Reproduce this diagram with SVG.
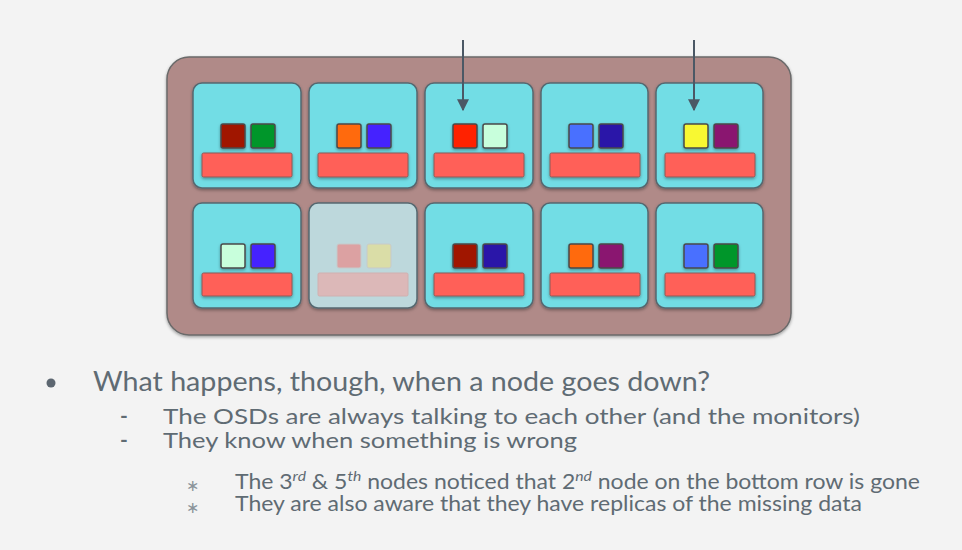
<svg xmlns="http://www.w3.org/2000/svg" width="962" height="550" viewBox="0 0 962 550">
<defs>
<filter id="sh" x="-20%" y="-20%" width="140%" height="150%">
<feDropShadow dx="0" dy="1.5" stdDeviation="1.5" flood-color="#000" flood-opacity="0.35"/>
</filter>
<marker id="ah" viewBox="0 0 10 10" refX="9" refY="5" markerWidth="6" markerHeight="6" orient="auto">
<path d="M0,0 L10,5 L0,10 z" fill="#4b5865"/>
</marker>
<style>
.node{fill:#72dde5;stroke:#556870;stroke-width:1.5;filter:url(#sh)}
.dead{fill:#bdd8dc;stroke:#556870;stroke-width:1.5;filter:url(#sh)}
.sq{stroke:#4a4a4a;stroke-width:1.5;filter:url(#sh)}
.fsq{stroke:#c8c8c8;stroke-width:1;opacity:0.9}
.bar{fill:#ff6058;stroke:#8a5a58;stroke-width:1;filter:url(#sh)}
.fbar{fill:#dcb8b8;stroke:#d0b0b0;stroke-width:1}
.t{font-family:Lato,"Open Sans","DejaVu Sans",sans-serif;fill:#5f6b73}
.ast{font-family:"DejaVu Sans",sans-serif;fill:#8a949a}
.sup{font-style:italic}
.conn{stroke:#4b5865;stroke-width:2;fill:none}
</style>
</defs>
<rect width="962" height="550" fill="#f3f3f3"/>
<g id="cluster">
<rect x="167" y="57" width="624" height="278" rx="22" fill="#b08a88" stroke="#6a6a6a" stroke-width="1.5" filter="url(#sh)"/>
</g>
<g id="n1">
<rect class="node" x="193" y="83" width="108" height="105" rx="9"/>
<rect class="sq" x="221" y="124" width="24" height="24" rx="2" fill="#a01500"/>
<rect class="sq" x="251" y="124" width="24" height="24" rx="2" fill="#00962a"/>
<rect class="bar" x="202" y="153" width="90" height="24" rx="1.5"/>
</g>
<g id="n2">
<rect class="node" x="309" y="83" width="108" height="105" rx="9"/>
<rect class="sq" x="337" y="124" width="24" height="24" rx="2" fill="#ff6a10"/>
<rect class="sq" x="367" y="124" width="24" height="24" rx="2" fill="#4422ff"/>
<rect class="bar" x="318" y="153" width="90" height="24" rx="1.5"/>
</g>
<g id="n3">
<rect class="node" x="425" y="83" width="108" height="105" rx="9"/>
<rect class="sq" x="453" y="124" width="24" height="24" rx="2" fill="#ff2200"/>
<rect class="sq" x="483" y="124" width="24" height="24" rx="2" fill="#c8ffdc"/>
<rect class="bar" x="434" y="153" width="90" height="24" rx="1.5"/>
</g>
<g id="n4">
<rect class="node" x="541" y="83" width="107" height="105" rx="9"/>
<rect class="sq" x="569" y="124" width="24" height="24" rx="2" fill="#4a70ff"/>
<rect class="sq" x="599" y="124" width="24" height="24" rx="2" fill="#2a14a8"/>
<rect class="bar" x="550" y="153" width="90" height="24" rx="1.5"/>
</g>
<g id="n5">
<rect class="node" x="656" y="83" width="107" height="105" rx="9"/>
<rect class="sq" x="684" y="124" width="24" height="24" rx="2" fill="#f8f830"/>
<rect class="sq" x="714" y="124" width="24" height="24" rx="2" fill="#8a1470"/>
<rect class="bar" x="665" y="153" width="90" height="24" rx="1.5"/>
</g>
<g id="n6">
<rect class="node" x="193" y="203" width="108" height="105" rx="9"/>
<rect class="sq" x="221" y="244" width="24" height="24" rx="2" fill="#c8ffdc"/>
<rect class="sq" x="251" y="244" width="24" height="24" rx="2" fill="#4422ff"/>
<rect class="bar" x="202" y="273" width="90" height="23" rx="1.5"/>
</g>
<g id="n7">
<rect class="dead" x="309" y="203" width="108" height="105" rx="9"/>
<rect class="fsq" x="337" y="244" width="24" height="24" rx="2" fill="#e09c9c"/>
<rect class="fsq" x="367" y="244" width="24" height="24" rx="2" fill="#dedea2"/>
<rect class="fbar" x="318" y="273" width="90" height="23" rx="1.5"/>
</g>
<g id="n8">
<rect class="node" x="425" y="203" width="108" height="105" rx="9"/>
<rect class="sq" x="453" y="244" width="24" height="24" rx="2" fill="#a01500"/>
<rect class="sq" x="483" y="244" width="24" height="24" rx="2" fill="#2a14a8"/>
<rect class="bar" x="434" y="273" width="90" height="23" rx="1.5"/>
</g>
<g id="n9">
<rect class="node" x="541" y="203" width="107" height="105" rx="9"/>
<rect class="sq" x="569" y="244" width="24" height="24" rx="2" fill="#ff6a10"/>
<rect class="sq" x="599" y="244" width="24" height="24" rx="2" fill="#8a1470"/>
<rect class="bar" x="550" y="273" width="90" height="23" rx="1.5"/>
</g>
<g id="n10">
<rect class="node" x="656" y="203" width="107" height="105" rx="9"/>
<rect class="sq" x="684" y="244" width="24" height="24" rx="2" fill="#4a70ff"/>
<rect class="sq" x="714" y="244" width="24" height="24" rx="2" fill="#00962a"/>
<rect class="bar" x="665" y="273" width="90" height="23" rx="1.5"/>
</g>
<g id="connectors">
<line class="conn" x1="463" y1="40" x2="463" y2="110" marker-end="url(#ah)"/>
<line class="conn" x1="694" y1="40" x2="694" y2="110" marker-end="url(#ah)"/>
</g>
<g id="text">
<circle cx="51" cy="383" r="4.5" fill="#5c6670"/>
<text class="t" x="93" y="391" font-size="26" textLength="617" lengthAdjust="spacingAndGlyphs">What happens, though, when a node goes down?</text>
<text class="t" x="120" y="423" font-size="21" font-weight="bold">-</text>
<text class="t" x="163" y="424" font-size="21.5" textLength="697" lengthAdjust="spacingAndGlyphs">The OSDs are always talking to each other (and the monitors)</text>
<text class="t" x="120" y="447" font-size="21" font-weight="bold">-</text>
<text class="t" x="163" y="448" font-size="21.5" textLength="414" lengthAdjust="spacingAndGlyphs">They know when something is wrong</text>
<text class="ast" x="186" y="491" font-size="16">∗</text>
<text class="t" x="235" y="489" font-size="20.5" textLength="685" lengthAdjust="spacingAndGlyphs">The 3<tspan class="sup" font-size="14" dy="-8">rd</tspan><tspan dy="8"> &amp; 5</tspan><tspan class="sup" font-size="14" dy="-8">th</tspan><tspan dy="8"> nodes noticed that 2</tspan><tspan class="sup" font-size="14" dy="-8">nd</tspan><tspan dy="8"> node on the bottom row is gone</tspan></text>
<text class="ast" x="186" y="513" font-size="16">∗</text>
<text class="t" x="235" y="511" font-size="20.5" textLength="627" lengthAdjust="spacingAndGlyphs">They are also aware that they have replicas of the missing data</text>
</g>
</svg>
